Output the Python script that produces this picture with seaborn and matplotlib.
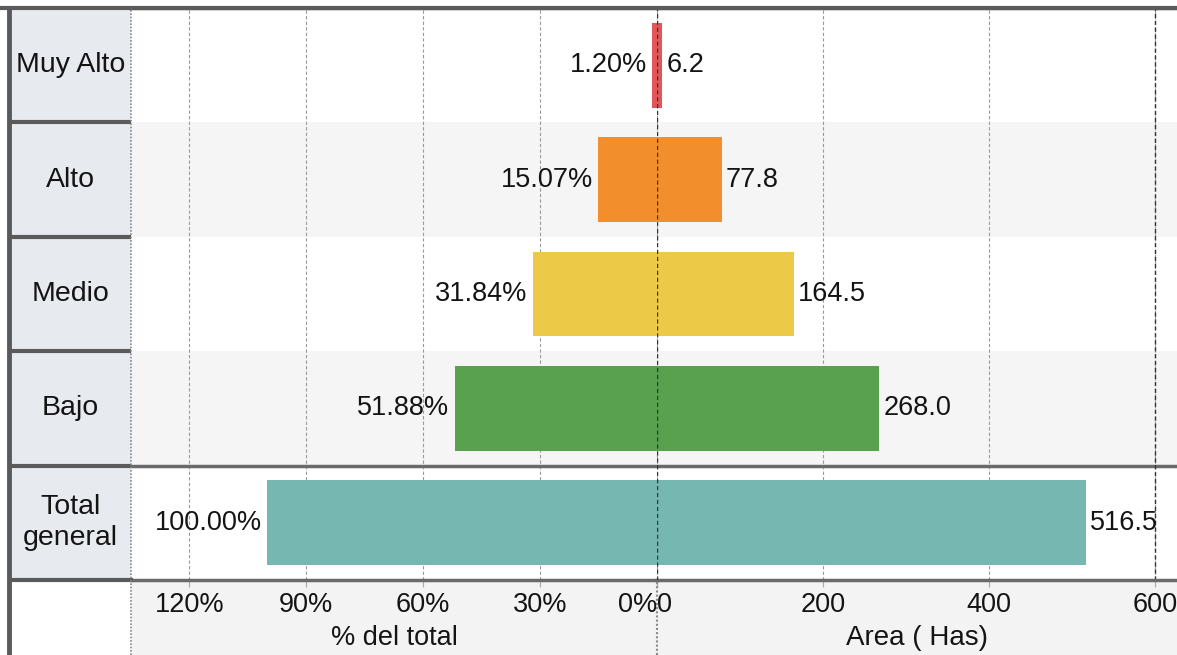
import matplotlib
matplotlib.use("Agg")
import matplotlib.pyplot as plt
import seaborn as sns
from matplotlib.lines import Line2D
from matplotlib.patches import Rectangle

# data
categories = ["Muy Alto", "Alto", "Medio", "Bajo", "Total general"]
row_labels = ["Muy Alto", "Alto", "Medio", "Bajo", "Total\ngeneral"]
pct_total = [1.20, 15.07, 31.84, 51.88, 100.00]
area_has = [6.2, 77.8, 164.5, 268.0, 516.5]
colors = ["#e15759", "#f28e2b", "#edc948", "#59a14f", "#76b7b2"]
pct_ticks = [120, 90, 60, 30, 0]
area_ticks = [0, 200, 400, 600]

plt.rcParams["font.family"] = ["Liberation Sans", "DejaVu Sans"]
FS = 19.5
TXT = "#141414"

W, H = 1177, 655
fig = plt.figure(figsize=(W / 100, H / 100), dpi=100)

x_lab0, x_split, x_zero = 10 / W, 131 / W, 657 / W
y_bot, y_top = 1 - 580 / H, 1 - 8 / H

# grey background under the axis area
fig.patches.append(Rectangle((x_split, 0), 1 - x_split, y_bot, transform=fig.transFigure,
                             color="#f3f3f3", zorder=-5))

axc = fig.add_axes([x_lab0, y_bot, x_split - x_lab0, y_top - y_bot])
axl = fig.add_axes([x_split, y_bot, x_zero - x_split, y_top - y_bot])
axr = fig.add_axes([x_zero, y_bot, 1 - x_zero, y_top - y_bot])

# row label column
axc.set_facecolor("#e7ebf0")
axc.set_xlim(0, 1)
axc.set_ylim(4.5, -0.5)
for i, lab in enumerate(row_labels):
    axc.text(0.5, i, lab, ha="center", va="center", fontsize=20.5, color=TXT, linespacing=1.25)
for b in [0.5, 1.5, 2.5, 3.5]:
    axc.axhline(b, color="#5a5a5a", lw=3)
axc.set_xticks([])
axc.set_yticks([])
for s in axc.spines.values():
    s.set_visible(False)

for ax in (axl, axr):
    ax.set_ylim(4.5, -0.5)
    for i in range(len(categories)):
        if i % 2 == 1:
            ax.axhspan(i - 0.5, i + 0.5, color="#f5f5f5", zorder=0, lw=0)

# left: % del total (reversed axis)
sns.barplot(x=pct_total, y=categories, hue=categories, palette=colors, orient="h",
            width=0.74, legend=False, ax=axl, saturation=1, zorder=3)
axl.set_xlim(135, 0)
axl.set_xticks(pct_ticks)
axl.set_xticklabels([f"{t}%" for t in pct_ticks])
axl.set_xlabel("% del total", fontsize=FS, labelpad=5, color=TXT)
for bars, v in zip(axl.containers, pct_total):
    axl.bar_label(bars, labels=[f"{v:.2f}%"], padding=4, fontsize=FS, color=TXT)

# right: Area (Has)
sns.barplot(x=area_has, y=categories, hue=categories, palette=colors, orient="h",
            width=0.74, legend=False, ax=axr, saturation=1, zorder=3)
axr.set_xlim(0, 626.5)
axr.set_xticks(area_ticks)
axr.set_xticklabels([str(t) for t in area_ticks])
axr.set_xlabel("Area ( Has)", fontsize=20, labelpad=5, color=TXT)
for bars, v in zip(axr.containers, area_has):
    axr.bar_label(bars, labels=[f"{v:.1f}"], padding=3, fontsize=FS, color=TXT)

for ax in (axl, axr):
    ax.set_ylabel("")
    ax.set_yticks([])
    ax.set_facecolor("white")
    ax.grid(axis="x", linestyle=(0, (3, 2)), color="#9a9a9a", lw=0.8, zorder=1)
    ax.set_axisbelow(True)
    ax.tick_params(axis="x", labelsize=FS, length=5, color="#aaaaaa", pad=4, labelcolor=TXT)
    ax.spines["left"].set_visible(False)
    ax.spines["right"].set_visible(False)
    for s in ("top", "bottom"):
        ax.spines[s].set_color("#6a6a6a")
        ax.spines[s].set_linewidth(2.5)
    ax.axhline(3.5, color="#6a6a6a", lw=2.5, zorder=2)

axr.axvline(600, color="#333333", linestyle=(0, (3, 2)), lw=1, zorder=2)
axr.axvline(0, color="#333333", linestyle=(0, (3, 2)), lw=1, zorder=4)

# keep 0% and 0 apart like the original
axl.get_xticklabels()[-1].set_ha("right")
axr.get_xticklabels()[0].set_ha("left")

# frame lines
fig.add_artist(Line2D([0, 1], [y_top, y_top], color="#5a5a5a", lw=3))
fig.add_artist(Line2D([x_lab0, x_split], [y_bot, y_bot], color="#5a5a5a", lw=3))
fig.add_artist(Line2D([9 / W, 9 / W], [0, y_top], color="#5a5a5a", lw=3.5))
fig.add_artist(Line2D([x_split, x_split], [0, y_top], color="#8a8a8a", lw=1.2, linestyle=(0, (1, 1))))
fig.add_artist(Line2D([x_zero, x_zero], [0, y_bot], color="#8a8a8a", lw=1.5, linestyle=(0, (1, 1))))

fig.savefig("out.png", dpi=100)
